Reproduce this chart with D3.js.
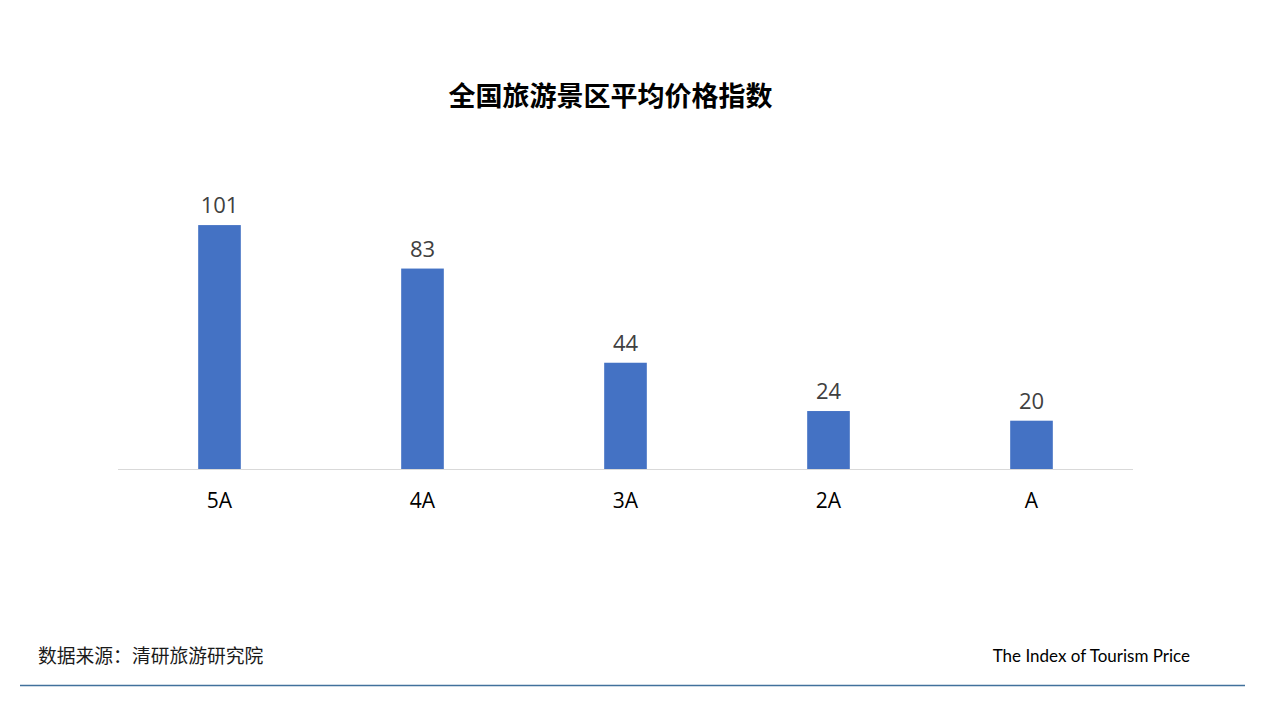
<!DOCTYPE html>
<html><head><meta charset="utf-8">
<script src="https://cdn.jsdelivr.net/npm/d3@7"></script>
<style>body{margin:0;background:#fff}svg{display:block}</style>
</head><body>
<svg id="c" width="1280" height="720"></svg>
<script>
const categories = ["5A","4A","3A","2A","A"];
const values = [101,83,44,24,20];
const title = "全国旅游景区平均价格指数";
const source = "数据来源：清研旅游研究院";
const subtitle = "The Index of Tourism Price";

const svg = d3.select("#c");
const x = d3.scaleBand().domain(categories).range([118,1133]).paddingInner(0.79).paddingOuter(0.395);
const y = d3.scaleLinear().domain([0,120]).range([469,469-120*2.415]);

svg.append("text").attr("x",610.5).attr("y",106).attr("text-anchor","middle")
  .attr("font-family","'Noto Sans CJK SC'").attr("font-weight","bold").attr("font-size",27)
  .attr("fill","#000").text(title);

svg.selectAll("rect.bar").data(values).join("rect").attr("class","bar")
  .attr("x",(d,i)=>x(categories[i])).attr("width",x.bandwidth())
  .attr("y",d=>y(d)).attr("height",d=>y(0)-y(d)).attr("fill","#4472C4");

svg.selectAll("text.val").data(values).join("text").attr("class","val")
  .attr("x",(d,i)=>x(categories[i])+x.bandwidth()/2).attr("y",d=>y(d)-12)
  .attr("text-anchor","middle").attr("font-family","'Open Sans'").attr("font-size",22)
  .attr("fill","#404040").text(d=>d);

const ax = svg.append("g").attr("transform","translate(0,469)").call(d3.axisBottom(x).tickSize(0).tickPadding(0));
ax.select(".domain").attr("stroke","#d9d9d9").attr("stroke-width",1).attr("d","M118,0.5H1133");
ax.selectAll(".tick text").attr("font-family","'Open Sans'").attr("font-size",21).attr("fill","#000").attr("dy",0).attr("y",39);

svg.append("text").attr("x",38).attr("y",663).attr("font-family","'Noto Sans CJK SC'").attr("font-size",18.8).attr("fill","#1a1a1a").text(source);
svg.append("text").attr("x",1190).attr("y",662).attr("text-anchor","end").attr("font-family","Lato").attr("font-size",17).attr("fill","#000").text(subtitle);
svg.append("line").attr("x1",20).attr("x2",1245).attr("y1",685.5).attr("y2",685.5).attr("stroke","#41719C").attr("stroke-width",1.5);
</script>
</body></html>
